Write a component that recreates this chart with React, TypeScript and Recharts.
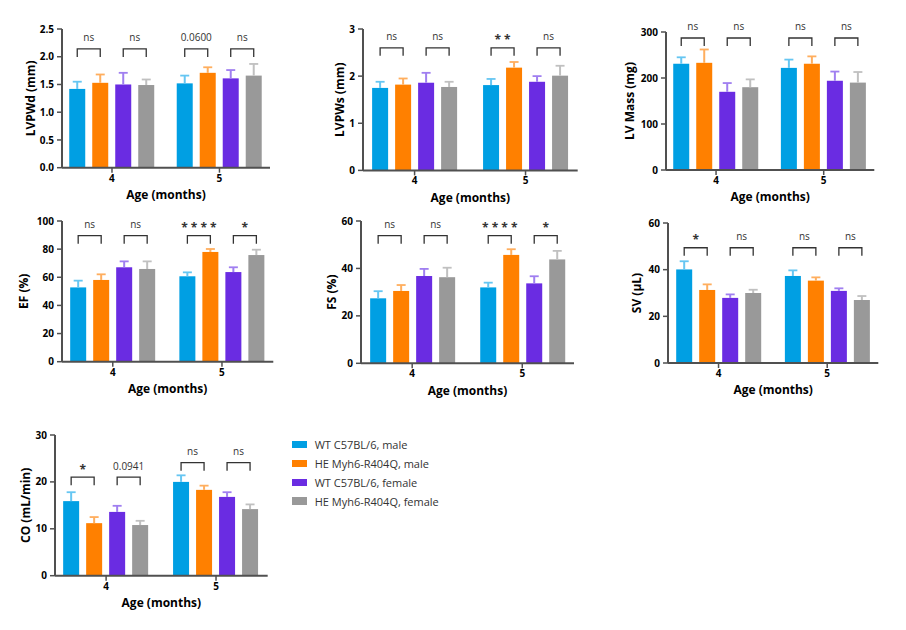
import React from 'react';
import { BarChart, Bar, XAxis, YAxis } from 'recharts';

const ages = [4, 5];
const seriesNames = ['WT C57BL/6, male', 'HE Myh6-R404Q, male', 'WT C57BL/6, female', 'HE Myh6-R404Q, female'];
const seriesColors = ['#009fe3', '#ff8000', '#6a2ce2', '#999999'];
const errorColors = ['#66c6f2', '#ffae5e', '#a07ff0', '#c0c0c0'];

// mean / sem arrays: [series][age index]
const lvpwdMean = [[1.42, 1.52], [1.53, 1.71], [1.50, 1.61], [1.49, 1.66]];
const lvpwdSem = [[0.13, 0.14], [0.15, 0.10], [0.21, 0.15], [0.10, 0.21]];
const lvpwdSig = [['ns', 'ns'], ['0.0600', 'ns']];
const lvpwdLevel = [[2.14, 2.14], [2.14, 2.14]];
const lvpwdTicks = [0, 0.5, 1, 1.5, 2, 2.5];

const lvpwsMean = [[1.75, 1.81], [1.82, 2.18], [1.86, 1.88], [1.77, 2.01]];
const lvpwsSem = [[0.13, 0.13], [0.13, 0.12], [0.21, 0.12], [0.11, 0.21]];
const lvpwsSig = [['ns', 'ns'], ['* *', 'ns']];
const lvpwsLevel = [[2.6, 2.6], [2.6, 2.6]];
const lvpwsTicks = [0, 1, 2, 3];

const lvmMean = [[231, 222], [233, 231], [170, 194], [180, 190]];
const lvmSem = [[14, 18], [29, 16], [19, 20], [17, 23]];
const lvmSig = [['ns', 'ns'], ['ns', 'ns']];
const lvmLevel = [[287, 287], [287, 287]];
const lvmTicks = [0, 100, 200, 300];

const efMean = [[52.8, 60.7], [58.1, 78.0], [67.1, 63.7], [65.9, 75.8]];
const efSem = [[4.8, 2.8], [4.0, 2.1], [4.2, 3.4], [5.4, 3.8]];
const efSig = [['ns', 'ns'], ['* * * *', '*']];
const efLevel = [[89.6, 89.6], [89.6, 89.6]];
const efTicks = [0, 20, 40, 60, 80, 100];

const fsMean = [[27.4, 32.0], [30.5, 45.7], [36.8, 33.7], [36.3, 43.8]];
const fsSem = [[3.0, 2.0], [2.5, 2.4], [3.0, 3.0], [4.0, 3.6]];
const fsSig = [['ns', 'ns'], ['* * * *', '*']];
const fsLevel = [[53.8, 53.8], [53.8, 53.8]];
const fsTicks = [0, 20, 40, 60];

const svMean = [[40.1, 37.3], [31.3, 35.3], [27.9, 30.9], [30.0, 27.0]];
const svSem = [[3.5, 2.4], [2.4, 1.4], [1.5, 1.1], [1.4, 1.7]];
const svSig = [['*', 'ns'], ['ns', 'ns']];
const svLevel = [[49.4, 49.4], [49.4, 49.4]];
const svTicks = [0, 20, 40, 60];

const coMean = [[15.9, 20.0], [11.2, 18.3], [13.6, 16.8], [10.8, 14.2]];
const coSem = [[1.9, 1.4], [1.3, 0.9], [1.3, 1.0], [0.9, 1.0]];
const coSig = [['*', '0.0941'], ['ns', 'ns']];
const coLevel = [[21.0, 21.0], [24.1, 24.1]];
const coTicks = [0, 10, 20, 30];

const FONT = '"Open Sans", "Noto Sans", sans-serif';
const BAR_SIZE = 16;
const BAR_GAP = 7;
const AXIS_COLOR = '#505050';

type Panel = {
  label: string;
  mean: number[][];
  sem: number[][];
  sig: string[][];
  level: number[][];
  ticks: number[];
  fmt?: (v: number) => string;
  axisX: number;
  xEnd: number;
  yTop: number;
  yZero: number;
  labelOff: number;
};

const panels: Panel[] = [
  { label: 'LVPWd (mm)', mean: lvpwdMean, sem: lvpwdSem, sig: lvpwdSig, level: lvpwdLevel, ticks: lvpwdTicks, fmt: (v) => v.toFixed(1), axisX: 62, xEnd: 270, yTop: 29, yZero: 167.7, labelOff: 32 },
  { label: 'LVPWs (mm)', mean: lvpwsMean, sem: lvpwsSem, sig: lvpwsSig, level: lvpwsLevel, ticks: lvpwsTicks, axisX: 363.3, xEnd: 578, yTop: 29.3, yZero: 170.7, labelOff: 23 },
  { label: 'LV Mass (mg)', mean: lvmMean, sem: lvmSem, sig: lvmSig, level: lvmLevel, ticks: lvmTicks, axisX: 665.7, xEnd: 874, yTop: 32.3, yZero: 170.3, labelOff: 36 },
  { label: 'EF (%)', mean: efMean, sem: efSem, sig: efSig, level: efLevel, ticks: efTicks, axisX: 61.7, xEnd: 273, yTop: 221, yZero: 361.7, labelOff: 38.5 },
  { label: 'FS (%)', mean: fsMean, sem: fsSem, sig: fsSig, level: fsLevel, ticks: fsTicks, axisX: 361, xEnd: 574, yTop: 221, yZero: 363.3, labelOff: 29 },
  { label: 'SV (µL)', mean: svMean, sem: svSem, sig: svSig, level: svLevel, ticks: svTicks, axisX: 667.7, xEnd: 878, yTop: 223, yZero: 363, labelOff: 31 },
  { label: 'CO (mL/min)', mean: coMean, sem: coSem, sig: coSig, level: coLevel, ticks: coTicks, axisX: 55, xEnd: 267.7, yTop: 435, yZero: 575.7, labelOff: 30 },
];

function makeShape(s: number) {
  return (props: any) => {
    const { x, y, width, height, payload } = props;
    const mean = payload[`m${s}`];
    const err = payload[`e${s}`];
    const ppu = mean ? height / mean : 0;
    const base = y + height;
    const cx = x + width / 2;
    const ey = y - err * ppu;
    let bracket: React.ReactNode = null;
    if (s === 1 || s === 3) {
      const pair = s === 1 ? 0 : 1;
      const lv = payload[`lv${pair}`];
      const txt: string = payload[`sig${pair}`];
      const by = base - lv * ppu;
      const lx = cx - (width + BAR_GAP);
      const isStar = txt.indexOf('*') >= 0;
      bracket = (
        <g>
          <path d={`M${lx},${by + 8} V${by} H${cx} V${by + 8}`} fill="none" stroke="#333" strokeWidth={1.3} />
          <text
            x={(lx + cx) / 2}
            y={isStar ? by - 3.5 : by - 7.5}
            textAnchor="middle"
            fontFamily={FONT}
            fontSize={isStar ? 12 : 10}
            fontWeight={isStar ? 700 : 400}
            fill="#333"
          >
            {txt}
          </text>
        </g>
      );
    }
    return (
      <g>
        <rect x={x} y={y} width={width} height={height} fill={seriesColors[s]} />
        <line x1={cx} y1={y} x2={cx} y2={ey} stroke={errorColors[s]} strokeWidth={2} />
        <line x1={cx - 4.5} y1={ey} x2={cx + 4.5} y2={ey} stroke={errorColors[s]} strokeWidth={1.8} />
        {bracket}
      </g>
    );
  };
}

const shapes = [0, 1, 2, 3].map((s) => makeShape(s));

function PanelChart({ p }: { p: Panel }) {
  const YW = 50;
  const mTop = 25;
  const mRight = 10;
  const XH = 40;
  const left = p.axisX - YW;
  const top = p.yTop - mTop;
  const width = YW + (p.xEnd - p.axisX) + mRight;
  const height = mTop + (p.yZero - p.yTop) + XH;
  const data = ages.map((age, i) => {
    const row: any = { age };
    for (let s = 0; s < 4; s++) {
      row[`m${s}`] = p.mean[s][i];
      row[`e${s}`] = p.sem[s][i];
    }
    row.sig0 = p.sig[i][0];
    row.sig1 = p.sig[i][1];
    row.lv0 = p.level[i][0];
    row.lv1 = p.level[i][1];
    return row;
  });
  const yMax = p.ticks[p.ticks.length - 1];
  const yLabel = (props: any) => {
    const vb = props.viewBox || {};
    const cx = vb.x + vb.width - p.labelOff;
    const cy = vb.y + vb.height / 2;
    return (
      <text x={cx} y={cy} transform={`rotate(-90 ${cx} ${cy})`} textAnchor="middle" dominantBaseline="central" fontFamily={FONT} fontSize={12} fontWeight={700} fill="#000">
        {p.label}
      </text>
    );
  };
  const xLabel = (props: any) => {
    const vb = props.viewBox || {};
    return (
      <text x={vb.x + vb.width / 2} y={vb.y + 31.5} textAnchor="middle" fontFamily={FONT} fontSize={12} fontWeight={700} fill="#000">
        Age (months)
      </text>
    );
  };
  return (
    <div style={{ position: 'absolute', left, top, width, height }}>
      <BarChart
        width={width}
        height={height}
        data={data}
        margin={{ top: mTop, right: mRight, bottom: 0, left: 0 }}
        barGap={BAR_GAP}
        style={{ overflow: 'visible' }}
      >
        <XAxis
          dataKey="age"
          type="number"
          domain={[3.535, 5.47]}
          ticks={ages}
          height={XH}
          tickSize={5}
          tickMargin={2}
          axisLine={{ stroke: AXIS_COLOR, strokeWidth: 2 }}
          tickLine={{ stroke: AXIS_COLOR, strokeWidth: 1.5 }}
          tick={{ fontSize: 10, fontWeight: 700, fill: '#000', fontFamily: FONT }}
          label={xLabel}
        />
        <YAxis
          width={YW}
          domain={[0, yMax]}
          ticks={p.ticks}
          tickFormatter={p.fmt ? p.fmt : (v: number) => String(v)}
          tickSize={5}
          tickMargin={3}
          axisLine={{ stroke: AXIS_COLOR, strokeWidth: 2 }}
          tickLine={{ stroke: AXIS_COLOR, strokeWidth: 1.5 }}
          tick={{ fontSize: 10, fontWeight: 700, fill: '#000', fontFamily: FONT }}
          label={yLabel}
        />
        {[0, 1, 2, 3].map((s) => (
          <Bar
            key={s}
            dataKey={`m${s}`}
            name={seriesNames[s]}
            fill={seriesColors[s]}
            barSize={BAR_SIZE}
            isAnimationActive={false}
            shape={shapes[s]}
          />
        ))}
      </BarChart>
    </div>
  );
}

const legendRows = [444.3, 463.3, 482.3, 501];

export default function App() {
  return (
    <div style={{ position: 'absolute', left: 0, top: 0, width: 906, height: 630, background: '#fff', fontFamily: FONT, overflow: 'hidden' }}>
      {panels.map((p, i) => (
        <PanelChart key={i} p={p} />
      ))}
      {seriesNames.map((n, i) => (
        <div key={n} style={{ position: 'absolute', left: 291.7, top: legendRows[i] - 8, height: 16, display: 'flex', alignItems: 'center', whiteSpace: 'nowrap' }}>
          <div style={{ width: 15, height: 7.5, background: seriesColors[i], marginRight: 8 }} />
          <span style={{ fontSize: 11, color: '#333', fontFamily: FONT }}>{n}</span>
        </div>
      ))}
    </div>
  );
}
